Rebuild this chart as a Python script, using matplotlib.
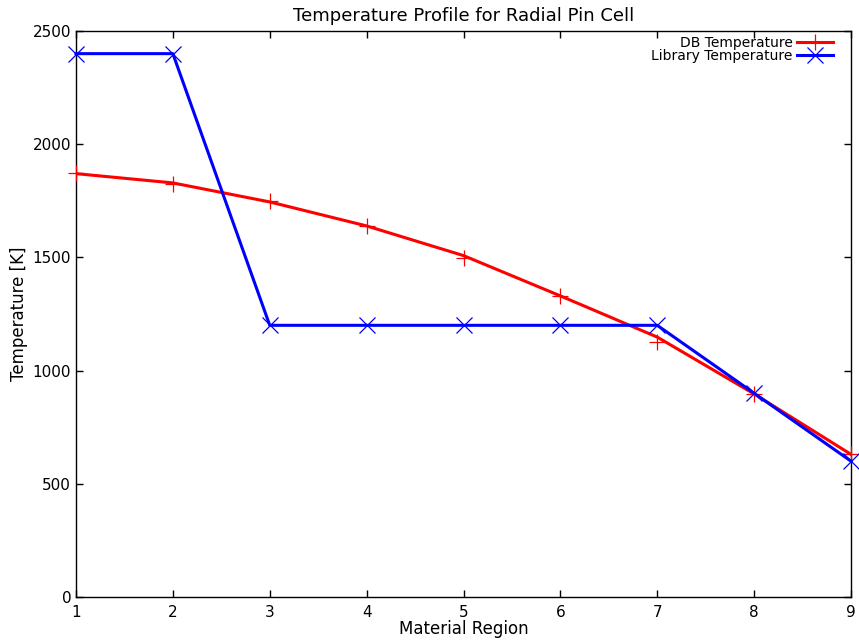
import matplotlib
matplotlib.use('Agg')
import matplotlib.pyplot as plt
from matplotlib.lines import Line2D

# Material region index
regions = [1, 2, 3, 4, 5, 6, 7, 8, 9]

# DB temperature: curve and sampled points
db_curve = [1870, 1829, 1745, 1639, 1508, 1330, 1148, 897, 630]
db_points = [1873, 1824, 1749, 1639, 1497, 1330, 1126, 897, 632]

# Library temperature
lib_temp = [2400, 2400, 1200, 1200, 1200, 1200, 1200, 900, 600]

fig = plt.figure(figsize=(8.59, 6.40), dpi=100)
ax = fig.add_axes([76/859, 43/640, 775/859, 566/640])

ax.plot(regions, db_curve, color='#ff0000', lw=2.2, zorder=3)
ax.plot(regions, db_points, ls='none', marker='+', ms=12, mew=0.9,
        color='#ff0000', zorder=4, clip_on=False)
ax.plot(regions, lib_temp, color='#0000ff', lw=2.2, marker='x', ms=11,
        mew=0.9, zorder=5, clip_on=False)

ax.set_xlim(1, 9)
ax.set_ylim(0, 2500)
ax.set_xticks(regions)
ax.set_yticks([0, 500, 1000, 1500, 2000, 2500])
ax.tick_params(direction='in', top=True, right=True, length=5, width=1,
               labelsize=11)
ax.tick_params(axis='x', pad=6)
for s in ax.spines.values():
    s.set_linewidth(1.0)

ax.set_xlabel('Material Region', fontsize=12, labelpad=0)
ax.set_ylabel('Temperature [K]', fontsize=12, labelpad=3)
ax.set_title('Temperature Profile for Radial Pin Cell', fontsize=13, pad=7)

handles = [
    Line2D([], [], color='#ff0000', lw=2.2, marker='+', ms=12, mew=0.9),
    Line2D([], [], color='#0000ff', lw=2.2, marker='x', ms=11, mew=0.9),
]
ax.legend(handles, ['DB Temperature', 'Library Temperature'],
          loc='upper right', bbox_to_anchor=(1 - 10/775, 1 + 3/566),
          frameon=False, markerfirst=False,
          fontsize=10, handlelength=2.6, handletextpad=0.3,
          labelspacing=-0.1, borderaxespad=0.2)

fig.savefig('out.png', dpi=100)
